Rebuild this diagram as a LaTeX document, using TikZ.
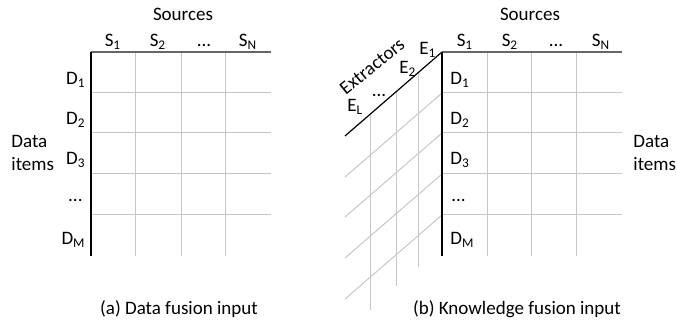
\documentclass[tikz,border=0pt]{standalone}
\usepackage{fontspec}
\setmainfont{Carlito}
\begin{document}
\begin{tikzpicture}[x=0.5pt,y=-0.5pt,
  lbl/.style={inner sep=0pt,font=\fontsize{9.5pt}{11pt}\selectfont},
  gridln/.style={draw=black!22,line width=0.5pt},
  topln/.style={draw=black!60,line width=0.9pt},
  axisln/.style={draw=black,line width=0.6pt}]
\useasboundingbox (0,0) rectangle (677,320);
% ---------- (a) ----------
\foreach \x in {136,182,226} \draw[gridln] (\x,52) -- (\x,256);
\foreach \y in {93,133,174,215} \draw[gridln] (91,\y) -- (271,\y);
\coordinate (a0) at (91,52);
\coordinate (a1) at (271,52);
\coordinate (a2) at (91,256);
\draw[topln] (a0) -- (a1);
\draw[axisln] (a0) -- (a2);
\node[lbl,anchor=base] (asrc) at (183,21) {Sources};
\node[lbl,anchor=base] (as1) at (113,47) {S\textsubscript{1}};
\node[lbl,anchor=base] (as2) at (158,47) {S\textsubscript{2}};
\node[lbl,anchor=base] (asd) at (204,47) {...};
\node[lbl,anchor=base] (asn) at (248,47) {S\textsubscript{N}};
\node[lbl,anchor=base east] (ad1) at (86,85) {D\textsubscript{1}};
\node[lbl,anchor=base east] (ad2) at (86,125) {D\textsubscript{2}};
\node[lbl,anchor=base east] (ad3) at (86,165) {D\textsubscript{3}};
\node[lbl,anchor=base east] (add) at (83,202) {...};
\node[lbl,anchor=base east] (adm) at (86,245) {D\textsubscript{M}};
\node[lbl,anchor=base west] (adata) at (11,148) {Data};
\node[lbl,anchor=base west] (aitems) at (11,171) {items};
\node[lbl,anchor=base] (acap) at (179,315) {(a) Data fusion input};
% ---------- (b) ----------
\foreach \x in {488,532,577} \draw[gridln] (\x,52) -- (\x,256);
\foreach \y in {93,133,174,215} \draw[gridln] (442,\y) -- (622,\y);
\foreach \y in {93,133,174,215} \draw[gridln] (442,\y) -- (345,\y+84);
\draw[gridln] (419,72) -- (419,267);
\draw[gridln] (397,91) -- (397,286);
\draw[gridln] (371,113.5) -- (371,310);
\coordinate (b0) at (442,52);
\coordinate (b1) at (622,52);
\coordinate (b2) at (442,256);
\coordinate (b3) at (345,136);
\draw[topln] (b0) -- (b1);
\draw[axisln] (b0) -- (b2);
\draw[axisln] (b0) -- (b3);
\node[lbl,anchor=base] (bsrc) at (530,21) {Sources};
\node[lbl,anchor=base] (bs1) at (465,47) {S\textsubscript{1}};
\node[lbl,anchor=base] (bs2) at (510,47) {S\textsubscript{2}};
\node[lbl,anchor=base] (bsd) at (556,47) {...};
\node[lbl,anchor=base] (bsn) at (601,47) {S\textsubscript{N}};
\node[lbl,anchor=base west] (bd1) at (450,85) {D\textsubscript{1}};
\node[lbl,anchor=base west] (bd2) at (450,125) {D\textsubscript{2}};
\node[lbl,anchor=base west] (bd3) at (450,165) {D\textsubscript{3}};
\node[lbl,anchor=base west] (bdd) at (451,202) {...};
\node[lbl,anchor=base west] (bdm) at (450,245) {D\textsubscript{M}};
\node[lbl,anchor=base west] (bdata) at (633,148) {Data};
\node[lbl,anchor=base west] (bitems) at (633,171) {items};
\node[lbl,anchor=base west] (be1) at (419,55) {E\textsubscript{1}};
\node[lbl,anchor=base west] (be2) at (399,74) {E\textsubscript{2}};
\node[lbl,anchor=base] (bed) at (379,97) {...};
\node[lbl,anchor=base west] (bel) at (347,112) {E\textsubscript{L}};
\node[lbl,anchor=base,rotate=39] (bext) at (376,71) {Extractors};
\node[lbl,anchor=base] (bcap) at (517,315) {(b) Knowledge fusion input};
\end{tikzpicture}
\end{document}
